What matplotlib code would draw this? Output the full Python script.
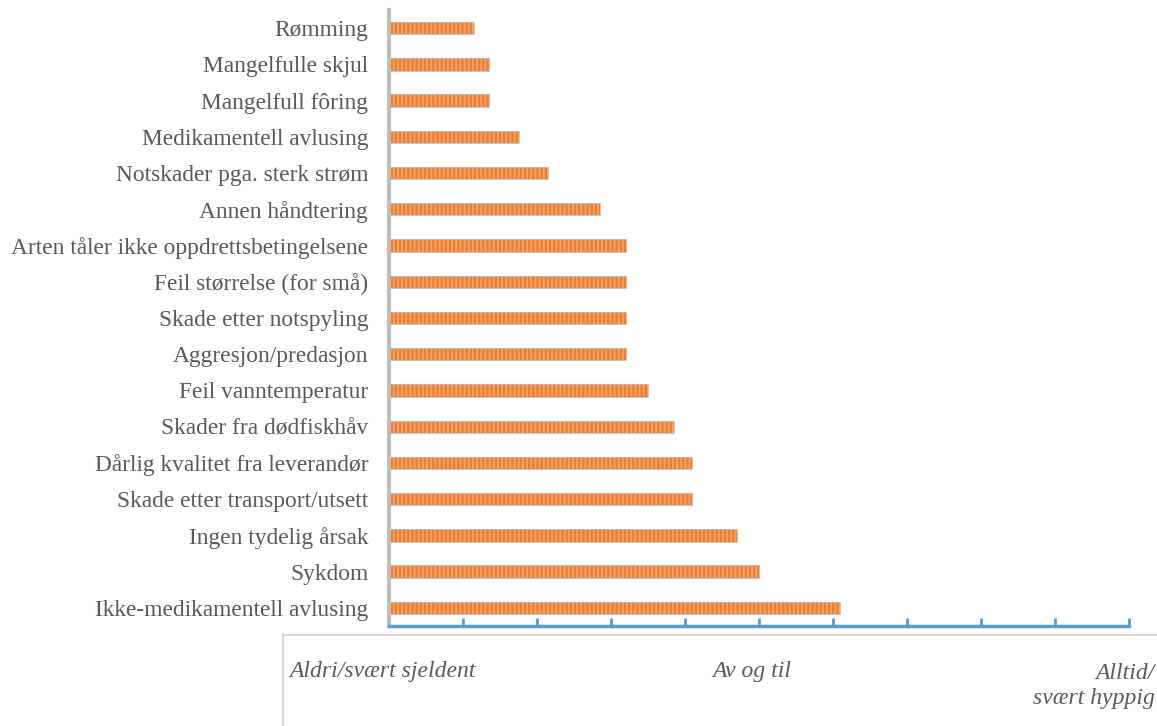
import matplotlib
matplotlib.use("Agg")
import matplotlib.pyplot as plt
from matplotlib.lines import Line2D

# Causes of fish injury / loss, rated on a 1 (never) to 5 (always) scale
categories = [
    "Rømming",
    "Mangelfulle skjul",
    "Mangelfull fôring",
    "Medikamentell avlusing",
    "Notskader pga. sterk strøm",
    "Annen håndtering",
    "Arten tåler ikke oppdrettsbetingelsene",
    "Feil størrelse (for små)",
    "Skade etter notspyling",
    "Aggresjon/predasjon",
    "Feil vanntemperatur",
    "Skader fra dødfiskhåv",
    "Dårlig kvalitet fra leverandør",
    "Skade etter transport/utsett",
    "Ingen tydelig årsak",
    "Sykdom",
    "Ikke-medikamentell avlusing",
]
scores = [1.46, 1.54, 1.54, 1.70, 1.86, 2.14, 2.28, 2.28, 2.28, 2.28,
          2.40, 2.54, 2.64, 2.64, 2.88, 3.00, 3.44]

scale_min, scale_max, scale_step = 1.0, 5.0, 0.4
scale_labels = ["Aldri/svært sjeldent", "Av og til", "Alltid/\nsvært hyppig"]

plt.rcParams["font.family"] = ["Liberation Serif", "DejaVu Serif"]
plt.rcParams["hatch.linewidth"] = 1.3

W, H = 1157, 726
fig = plt.figure(figsize=(W / 100, H / 100), dpi=100)
ax = fig.add_axes([389 / W, 100 / H, 740 / W, 616 / H])

n = len(categories)
ypos = list(range(n))[::-1]
base = [scale_min] * n
widths = [s - scale_min for s in scores]

ax.barh(ypos, widths, left=base, height=0.34, color="#ED7D31", linewidth=0, zorder=2)
ax.barh(ypos, widths, left=base, height=0.34, facecolor="none", edgecolor="#F4A56C",
        hatch="||||", linewidth=0, zorder=3)
ax.barh(ypos, widths, left=base, height=0.34, facecolor="none", edgecolor="#BDBDBD",
        linewidth=0.6, zorder=4)

ax.set_xlim(scale_min, scale_max)
ax.set_ylim(-0.5, n - 0.5)
ticks = [scale_min + i * scale_step for i in range(11)]
ax.set_xticks(ticks)
ax.set_xticklabels([])
ax.tick_params(axis="x", direction="in", length=6, width=2, color="#5B9BD5", pad=0)
ax.set_yticks(ypos)
ax.set_yticklabels(categories, fontsize=16.8, color="#595959")
ax.tick_params(axis="y", length=0, pad=15)

for side in ("top", "right"):
    ax.spines[side].set_visible(False)
ax.spines["bottom"].set_color("#5B9BD5")
ax.spines["bottom"].set_linewidth(2.5)
ax.spines["left"].set_color("#BFBFBF")
ax.spines["left"].set_linewidth(3)

# Frame holding the verbal scale below the axis
fig.add_artist(Line2D([283 / W, 1.0], [1 - 635 / H, 1 - 635 / H], color="#D0D0D0", lw=1.2))
fig.add_artist(Line2D([283 / W, 283 / W], [0, 1 - 635 / H], color="#D0D0D0", lw=1.2))

lbl = dict(fontsize=17, color="#595959", style="italic")
fig.text(289 / W, 1 - 671 / H, scale_labels[0], ha="left", va="center", **lbl)
fig.text(752 / W, 1 - 671 / H, scale_labels[1], ha="center", va="center", **lbl)
fig.text(1155 / W, 1 - 686 / H, scale_labels[2], ha="right", va="center",
         multialignment="right", linespacing=1.25, **lbl)

fig.savefig("out.png", dpi=100)
